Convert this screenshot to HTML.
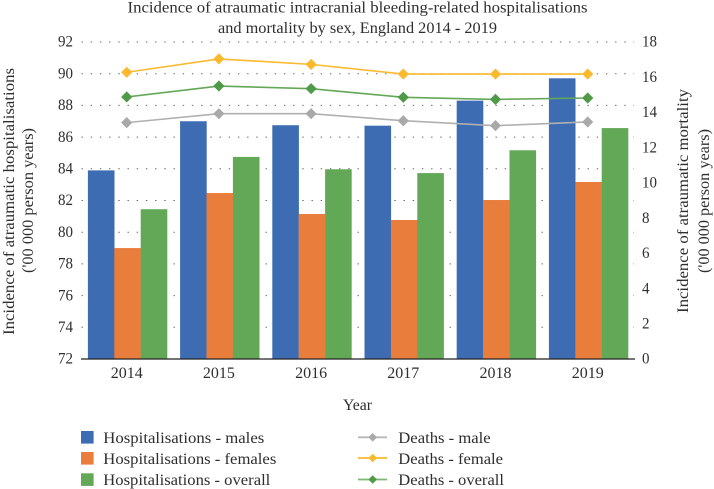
<!DOCTYPE html>
<html lang="en">
<head>
<meta charset="utf-8">
<title>Incidence of atraumatic intracranial bleeding</title>
<style>
html,body{margin:0;padding:0;background:#fff;}
svg{display:block;}
text{font-family:"Liberation Serif",serif;fill:#2e2e2e;font-size:16px;}
</style>
</head>
<body>
<svg id="chart" width="714" height="489" viewBox="0 0 714 489" xmlns="http://www.w3.org/2000/svg">
  <g id="grid"></g>
  <g id="bars"></g>
  <line x1="81" x2="635" y1="359" y2="359" stroke="#222" stroke-width="1.2"/>
  <g id="lines"></g>
  <g id="ticks"></g>
  <text x="127.5" y="12.5" textLength="460" lengthAdjust="spacingAndGlyphs">Incidence of atraumatic intracranial bleeding-related hospitalisations</text>
  <text x="218" y="33" textLength="279" lengthAdjust="spacingAndGlyphs">and mortality by sex, England 2014 - 2019</text>
  <text transform="translate(14,335) rotate(-90)" textLength="267" lengthAdjust="spacingAndGlyphs">Incidence of atraumatic hospitalisations</text>
  <text transform="translate(33,273) rotate(-90)" textLength="145" lengthAdjust="spacingAndGlyphs">('00 000 person years)</text>
  <text transform="translate(688,313) rotate(-90)" textLength="224" lengthAdjust="spacingAndGlyphs">Incidence of atraumatic mortality</text>
  <text transform="translate(709,273) rotate(-90)" textLength="144" lengthAdjust="spacingAndGlyphs">('00 000 person years)</text>
  <text x="343" y="410" textLength="29" lengthAdjust="spacingAndGlyphs">Year</text>

  <g>
    <g>
      <rect x="81" y="431" width="12.6" height="12.6" fill="#3d6cb3"/>
      <text x="103.3" y="443" textLength="161" lengthAdjust="spacingAndGlyphs">Hospitalisations - males</text>
    </g>
    <g>
      <rect x="81" y="452" width="12.6" height="12.6" fill="#e97d3b"/>
      <text x="103.3" y="464" textLength="173" lengthAdjust="spacingAndGlyphs">Hospitalisations - females</text>
    </g>
    <g>
      <rect x="81" y="473.3" width="12.6" height="12.6" fill="#63a857"/>
      <text x="103.3" y="485" textLength="167" lengthAdjust="spacingAndGlyphs">Hospitalisations - overall</text>
    </g>
    <g>
      <line x1="358" x2="387" y1="437.3" y2="437.3" stroke="#b8b8b8" stroke-width="1.8"/>
      <path d="M372.7 433 L377 437.3 L372.7 441.6 L368.4 437.3 Z" fill="#a9a9a9"/>
      <text x="398.3" y="443" textLength="92.4" lengthAdjust="spacingAndGlyphs">Deaths - male</text>
    </g>
    <g>
      <line x1="358" x2="387" y1="458" y2="458" stroke="#fbb92e" stroke-width="1.8"/>
      <path d="M372.7 453.7 L377 458 L372.7 462.3 L368.4 458 Z" fill="#fbb92e"/>
      <text x="398.3" y="464" textLength="104.7" lengthAdjust="spacingAndGlyphs">Deaths - female</text>
    </g>
    <g>
      <line x1="358" x2="387" y1="479.5" y2="479.5" stroke="#7db873" stroke-width="1.8"/>
      <path d="M372.7 475.2 L377 479.5 L372.7 483.8 L368.4 479.5 Z" fill="#4f9a48"/>
      <text x="398.3" y="485" textLength="105.7" lengthAdjust="spacingAndGlyphs">Deaths - overall</text>
    </g>
  </g>
</svg>
<script>
// Chart data
const categories = ['2014', '2015', '2016', '2017', '2018', '2019'];
const hospMales = [83.9, 87.0, 86.75, 86.72, 88.3, 89.71];
const hospFemales = [79.0, 82.47, 81.15, 80.77, 82.03, 83.17];
const hospOverall = [81.45, 84.75, 83.97, 83.73, 85.17, 86.57];
const deathsMale = [13.42, 13.93, 13.93, 13.53, 13.25, 13.46];
const deathsFemale = [16.28, 17.04, 16.73, 16.18, 16.18, 16.18];
const deathsOverall = [14.88, 15.5, 15.35, 14.86, 14.74, 14.82];
const leftTicks = [72, 74, 76, 78, 80, 82, 84, 86, 88, 90, 92];
const rightTicks = [0, 2, 4, 6, 8, 10, 12, 14, 16, 18];

const NS = 'http://www.w3.org/2000/svg';
const plotTop = 42, plotBottom = 359, plotLeft = 80.6, bandWidth = 92.2, barWidth = 26.4;
const digitWidth = 7.5;
const leftMin = leftTicks[0], leftMax = leftTicks[leftTicks.length - 1];
const rightMin = rightTicks[0], rightMax = rightTicks[rightTicks.length - 1];

function yLeft(v) { return plotBottom - (v - leftMin) / (leftMax - leftMin) * (plotBottom - plotTop); }
function yRight(v) { return plotBottom - (v - rightMin) / (rightMax - rightMin) * (plotBottom - plotTop); }
function xCenter(i) { return plotLeft + bandWidth * (i + 0.5); }
function make(tag, attrs, parent) {
  const el = document.createElementNS(NS, tag);
  for (const k in attrs) el.setAttribute(k, attrs[k]);
  parent.appendChild(el);
  return el;
}

const gridG = document.getElementById('grid');
const barsG = document.getElementById('bars');
const linesG = document.getElementById('lines');
const ticksG = document.getElementById('ticks');

leftTicks.forEach(function (t) {
  const y = yLeft(t);
  const w = String(t).length * digitWidth;
  const label = make('text', { x: 73 - w, y: y + 4.7, textLength: w, lengthAdjust: 'spacingAndGlyphs' }, ticksG);
  label.textContent = t;
  
  
  if (t === leftMin) return;
  const g = make('line', { x1: 81.5, x2: 634, y1: y, y2: y, stroke: '#666', 'stroke-width': 1, 'stroke-dasharray': '1.4 7.8' }, gridG);
  
  
});

rightTicks.forEach(function (t) {
  const w = String(t).length * digitWidth;
  const label = make('text', { x: 642, y: yRight(t) + 4.7, textLength: w, lengthAdjust: 'spacingAndGlyphs' }, ticksG);
  label.textContent = t;
  
  
});

categories.forEach(function (c, i) {
  const label = make('text', { x: xCenter(i), y: 378, 'text-anchor': 'middle' }, ticksG);
  label.textContent = c;
  
  
});

function drawBars(values, offset, color) {
  values.forEach(function (v, i) {
    const y = yLeft(v);
    const r = make('rect', { x: xCenter(i) + 0.8 + (offset - 1.5) * barWidth, y: y, width: barWidth + 0.2, height: plotBottom - y, fill: color }, barsG);
    
    
  });
}
drawBars(hospMales, 0, '#3d6cb3');
drawBars(hospFemales, 1, '#e97d3b');
drawBars(hospOverall, 2, '#63a857');

function drawLine(values, lineColor, markColor) {
  const pts = values.map(function (v, i) { return xCenter(i) + ',' + yRight(v); }).join(' ');
  const p = make('polyline', { points: pts, fill: 'none', stroke: lineColor, 'stroke-width': 1.6 }, linesG);
  
  
  values.forEach(function (v, i) {
    const x = xCenter(i), y = yRight(v), s = 5.6;
    const d = 'M' + x + ' ' + (y - s) + ' L' + (x + s) + ' ' + y + ' L' + x + ' ' + (y + s) + ' L' + (x - s) + ' ' + y + ' Z';
    const m = make('path', { d: d, fill: markColor }, linesG);
    
    
  });
}
drawLine(deathsMale, '#b0b0b0', '#a9a9a9');
drawLine(deathsFemale, '#fbb92e', '#fbb92e');
drawLine(deathsOverall, '#63a857', '#4f9a48');
</script>
</body>
</html>
